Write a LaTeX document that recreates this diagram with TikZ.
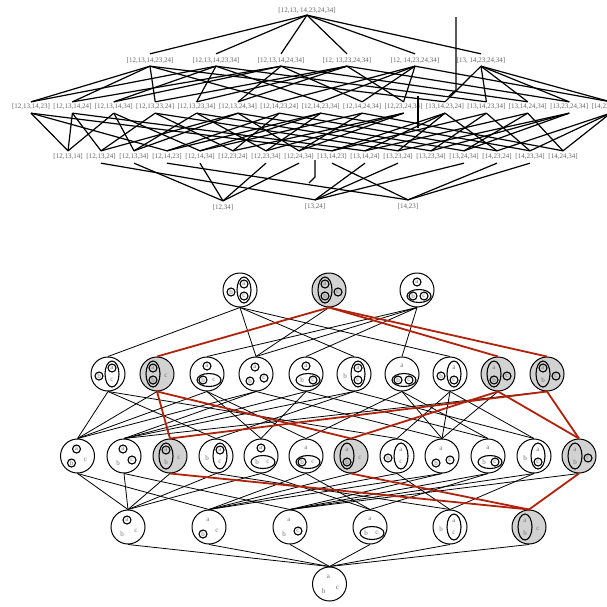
\documentclass[tikz,border=0pt]{standalone}
\usepackage{fontspec}
\setmainfont{Liberation Serif}
\definecolor{hred}{RGB}{178,34,10}
\tikzset{
 lbl/.style={font=\fontsize{7}{8}\selectfont, text=black!60, inner sep=1pt},
 tl/.style={line width=1.2pt, black},
 hc/.style={circle, draw, line width=1pt, minimum size=34pt, inner sep=0pt},
 ln/.style={line width=0.8pt},
 rl/.style={line width=1.8pt, color=hred},
 lett/.style={font=\fontsize{7}{8}\selectfont, text=black!55, inner sep=0pt},
 sm/.style={line width=1.1pt},
}
% letter positions per layout
\expandafter\def\csname pxnonea\endcsname{-1}\expandafter\def\csname pynonea\endcsname{-7}
\expandafter\def\csname pxnoneb\endcsname{-6}\expandafter\def\csname pynoneb\endcsname{7}
\expandafter\def\csname pxnonec\endcsname{8}\expandafter\def\csname pynonec\endcsname{4}
\expandafter\def\csname pxaba\endcsname{-4}\expandafter\def\csname pyaba\endcsname{-6}
\expandafter\def\csname pxabb\endcsname{-4}\expandafter\def\csname pyabb\endcsname{6}
\expandafter\def\csname pxabc\endcsname{9}\expandafter\def\csname pyabc\endcsname{2}
\expandafter\def\csname pxbca\endcsname{0}\expandafter\def\csname pybca\endcsname{-8}
\expandafter\def\csname pxbcb\endcsname{-4}\expandafter\def\csname pybcb\endcsname{6}
\expandafter\def\csname pxbcc\endcsname{7}\expandafter\def\csname pybcc\endcsname{6}
\expandafter\def\csname pxaca\endcsname{4}\expandafter\def\csname pyaca\endcsname{-6}
\expandafter\def\csname pxacc\endcsname{4}\expandafter\def\csname pyacc\endcsname{6}
\expandafter\def\csname pxacb\endcsname{-9}\expandafter\def\csname pyacb\endcsname{2}
\expandafter\def\csname ellab\endcsname{\draw[sm] (-4,0) ellipse (7 and 13);}
\expandafter\def\csname ellbc\endcsname{\draw[sm] (2,6) ellipse (12 and 6.5);}
\expandafter\def\csname ellac\endcsname{\draw[sm] (4,0) ellipse (7 and 13);}
\expandafter\def\csname ellnone\endcsname{}
\newcommand\hn[6]{%
 \node[hc, fill=#4] (#1) at (#2,#3) {};
 \begin{scope}[shift={(#2,#3)}]
  \csname ell#5\endcsname
  \foreach \lv in {a,b,c}{\edef\hx{\csname px#5\lv\endcsname}\edef\hy{\csname py#5\lv\endcsname}\node[lett] at (\hx,\hy) {\lv};}
  \if\relax\detokenize{#6}\relax\else
  \foreach \lv in {#6}{\edef\hx{\csname px#5\lv\endcsname}\edef\hy{\csname py#5\lv\endcsname}\draw[sm] (\hx,\hy) circle (4);}
  \fi
 \end{scope}}
\begin{document}
\begin{tikzpicture}[x=1pt,y=-1pt]
\useasboundingbox (0,0) rectangle (607,606);
% ---------- upper lattice ----------
\node[lbl] (P0) at (307,11) {[12,13, 14,23,24,34]};
\node[lbl] (P1) at (150,61) {[12,13,14,23,24]};
\node[lbl] (P2) at (216,61) {[12,13,14,23,34]};
\node[lbl] (P3) at (281,61) {[12,13,14,24,34]};
\node[lbl] (P4) at (347,61) {[12, 13,23,24,34]};
\node[lbl] (P5) at (415,61) {[12, 14,23,24,34]};
\node[lbl] (P6) at (481,61) {[13, 14,23,24,34]};
\foreach \t [count=\i] in {{[12,13,14,23]},{[12,13,14,24]},{[12,13,14,34]},{[12,13,23,24]},{[12,13,23,34]},{[12,13,24,34]},{[12,14,23,24]},{[12,14,23,34]},{[12,14,24,34]},{[12,23,24,34]},{[13,14,23,24]},{[13,14,23,34]},{[13,14,24,34]},{[13,23,24,34]},{[14,23,24,34]}}
  \node[lbl] (Q\i) at ({31+41.4*(\i-1)},107) {\t};
\foreach \t [count=\i] in {{[12,13,14]},{[12,13,24]},{[12,13,34]},{[12,14,23]},{[12,14,34]},{[12,23,24]},{[12,23,34]},{[12,24,34]},{[13,14,23]},{[13,14,24]},{[13,23,24]},{[13,23,34]},{[13,24,34]},{[14,23,24]},{[14,23,34]},{[14,24,34]}}
  \node[lbl] (R\i) at ({68+33*(\i-1)},157) {\t};
\node[lbl] (S1) at (223,208) {[12,34]};
\node[lbl] (S2) at (315,207) {[13,24]};
\node[lbl] (S3) at (408,207) {[14,23]};
\foreach \i in {1,...,6} \draw[tl] (P0.south) -- ([yshift=3pt]P\i.north);
\foreach \a/\b in {1/1,1/2,1/4,1/7,1/11, 2/1,2/3,2/5,2/8,2/12, 3/2,3/3,3/6,3/9,3/13, 4/4,4/5,4/6,4/10,4/14, 5/7,5/8,5/9,5/10,5/15, 6/11,6/12,6/13,6/14,6/15}
  \draw[tl] ([yshift=-1pt]P\a.south) -- ([yshift=1pt]Q\b.north);
\foreach \a/\b in {1/1,1/4,1/9, 2/1,2/2,2/10, 3/1,3/3,3/5, 4/2,4/6,4/11, 5/3,5/7,5/12, 6/2,6/3,6/8,6/13, 7/4,7/6,7/14, 8/4,8/5,8/7,8/15, 9/5,9/8,9/16, 10/6,10/7,10/8, 11/9,11/10,11/11,11/14, 12/9,12/12,12/15, 13/10,13/13,13/16, 14/11,14/12,14/13, 15/14,15/15,15/16}
  \draw[tl] ([yshift=-2pt]Q\a.south) -- ([yshift=2pt]R\b.north);
\foreach \a/\b in {3/1,5/1,7/1,8/1, 2/2,10/2,11/2,13/2, 4/3,9/3,14/3,15/3}
  \draw[tl] ([yshift=-2pt]R\a.south) -- ([yshift=3pt]S\b.north);
% stray strokes of the original
\coordinate (g1) at (456,17); \coordinate (g2) at (456,90); \coordinate (g3) at (449,96);
\draw[tl] (g1) -- (g2) -- (g3);
\coordinate (g4) at (418,96); \coordinate (g5) at (418,128);
\draw[tl] (g4) -- (g5);
\coordinate (g6) at (315,160); \coordinate (g7) at (315,177); \coordinate (g8) at (309,183);
\draw[tl] (g6) -- (g7) -- (g8);
% ---------- lower lattice ----------
\hn{A1}{240}{290}{white}{ac}{a,b,c}
\hn{A2}{329}{290}{gray!35}{ab}{a,b,c}
\hn{A3}{417}{290}{white}{bc}{a,b,c}
\hn{B1}{108}{374}{white}{ac}{a,b}
\hn{B2}{157}{374}{gray!35}{ab}{a,b}
\hn{B3}{207}{374}{white}{bc}{a,b}
\hn{B4}{256}{374}{white}{none}{a,b,c}
\hn{B5}{306}{374}{white}{bc}{a,c}
\hn{B6}{354}{374}{white}{ac}{a,c}
\hn{B7}{402}{374}{white}{bc}{b,c}
\hn{B8}{450}{374}{white}{ac}{b,c}
\hn{B9}{498}{374}{gray!35}{ab}{b,c}
\hn{B10}{547}{374}{gray!35}{ab}{a,c}
\hn{C1}{77.5}{456}{white}{none}{a,b}
\hn{C2}{124}{456}{white}{none}{a,c}
\hn{C3}{170}{456}{gray!35}{ab}{a}
\hn{C4}{216}{456}{white}{ac}{a}
\hn{C5}{261}{456}{white}{bc}{a}
\hn{C6}{306}{456}{white}{bc}{b}
\hn{C7}{351}{456}{gray!35}{ab}{b}
\hn{C8}{397}{456}{white}{ac}{b}
\hn{C9}{442}{456}{white}{none}{b,c}
\hn{C10}{488}{456}{white}{bc}{c}
\hn{C11}{534}{456}{white}{ac}{c}
\hn{C12}{579}{456}{gray!35}{ab}{c}
\hn{D1}{128}{527}{white}{none}{a}
\hn{D2}{209}{527}{white}{none}{b}
\hn{D3}{290}{527}{white}{none}{c}
\hn{D4}{370}{527}{white}{bc}{}
\hn{D5}{450}{527}{white}{ac}{}
\hn{D6}{529}{527}{gray!35}{ab}{}
\hn{E}{329.5}{584}{white}{none}{}
\foreach \a/\b in {A1/B1,A1/B6,A1/B8,A1/B4,A2/B4,A3/B3,A3/B5,A3/B7,A3/B4,
 B1/C4,B1/C8,B1/C1,B2/C1,B3/C5,B3/C6,B3/C1,B4/C1,B4/C2,B4/C9,B5/C5,B5/C10,B5/C2,B6/C4,B6/C11,B6/C2,B7/C6,B7/C10,B7/C9,B8/C8,B8/C11,B8/C9,B9/C9,B10/C2,
 C1/D1,C1/D2,C2/D1,C2/D3,C3/D1,C4/D5,C4/D1,C5/D4,C5/D1,C6/D4,C6/D2,C7/D2,C8/D5,C8/D2,C9/D2,C9/D3,C10/D4,C10/D3,C11/D5,C11/D3,C12/D3,
 D1/E,D2/E,D3/E,D4/E,D5/E,D6/E}
  \draw[ln] (\a.south) -- (\b.north);
\foreach \a/\b in {A2/B2,A2/B9,A2/B10,B2/C3,B2/C7,B9/C7,B9/C12,B10/C3,B10/C12,C3/D6,C7/D6,C12/D6}
  \draw[rl] (\a.south) -- (\b.north);
\end{tikzpicture}
\end{document}
